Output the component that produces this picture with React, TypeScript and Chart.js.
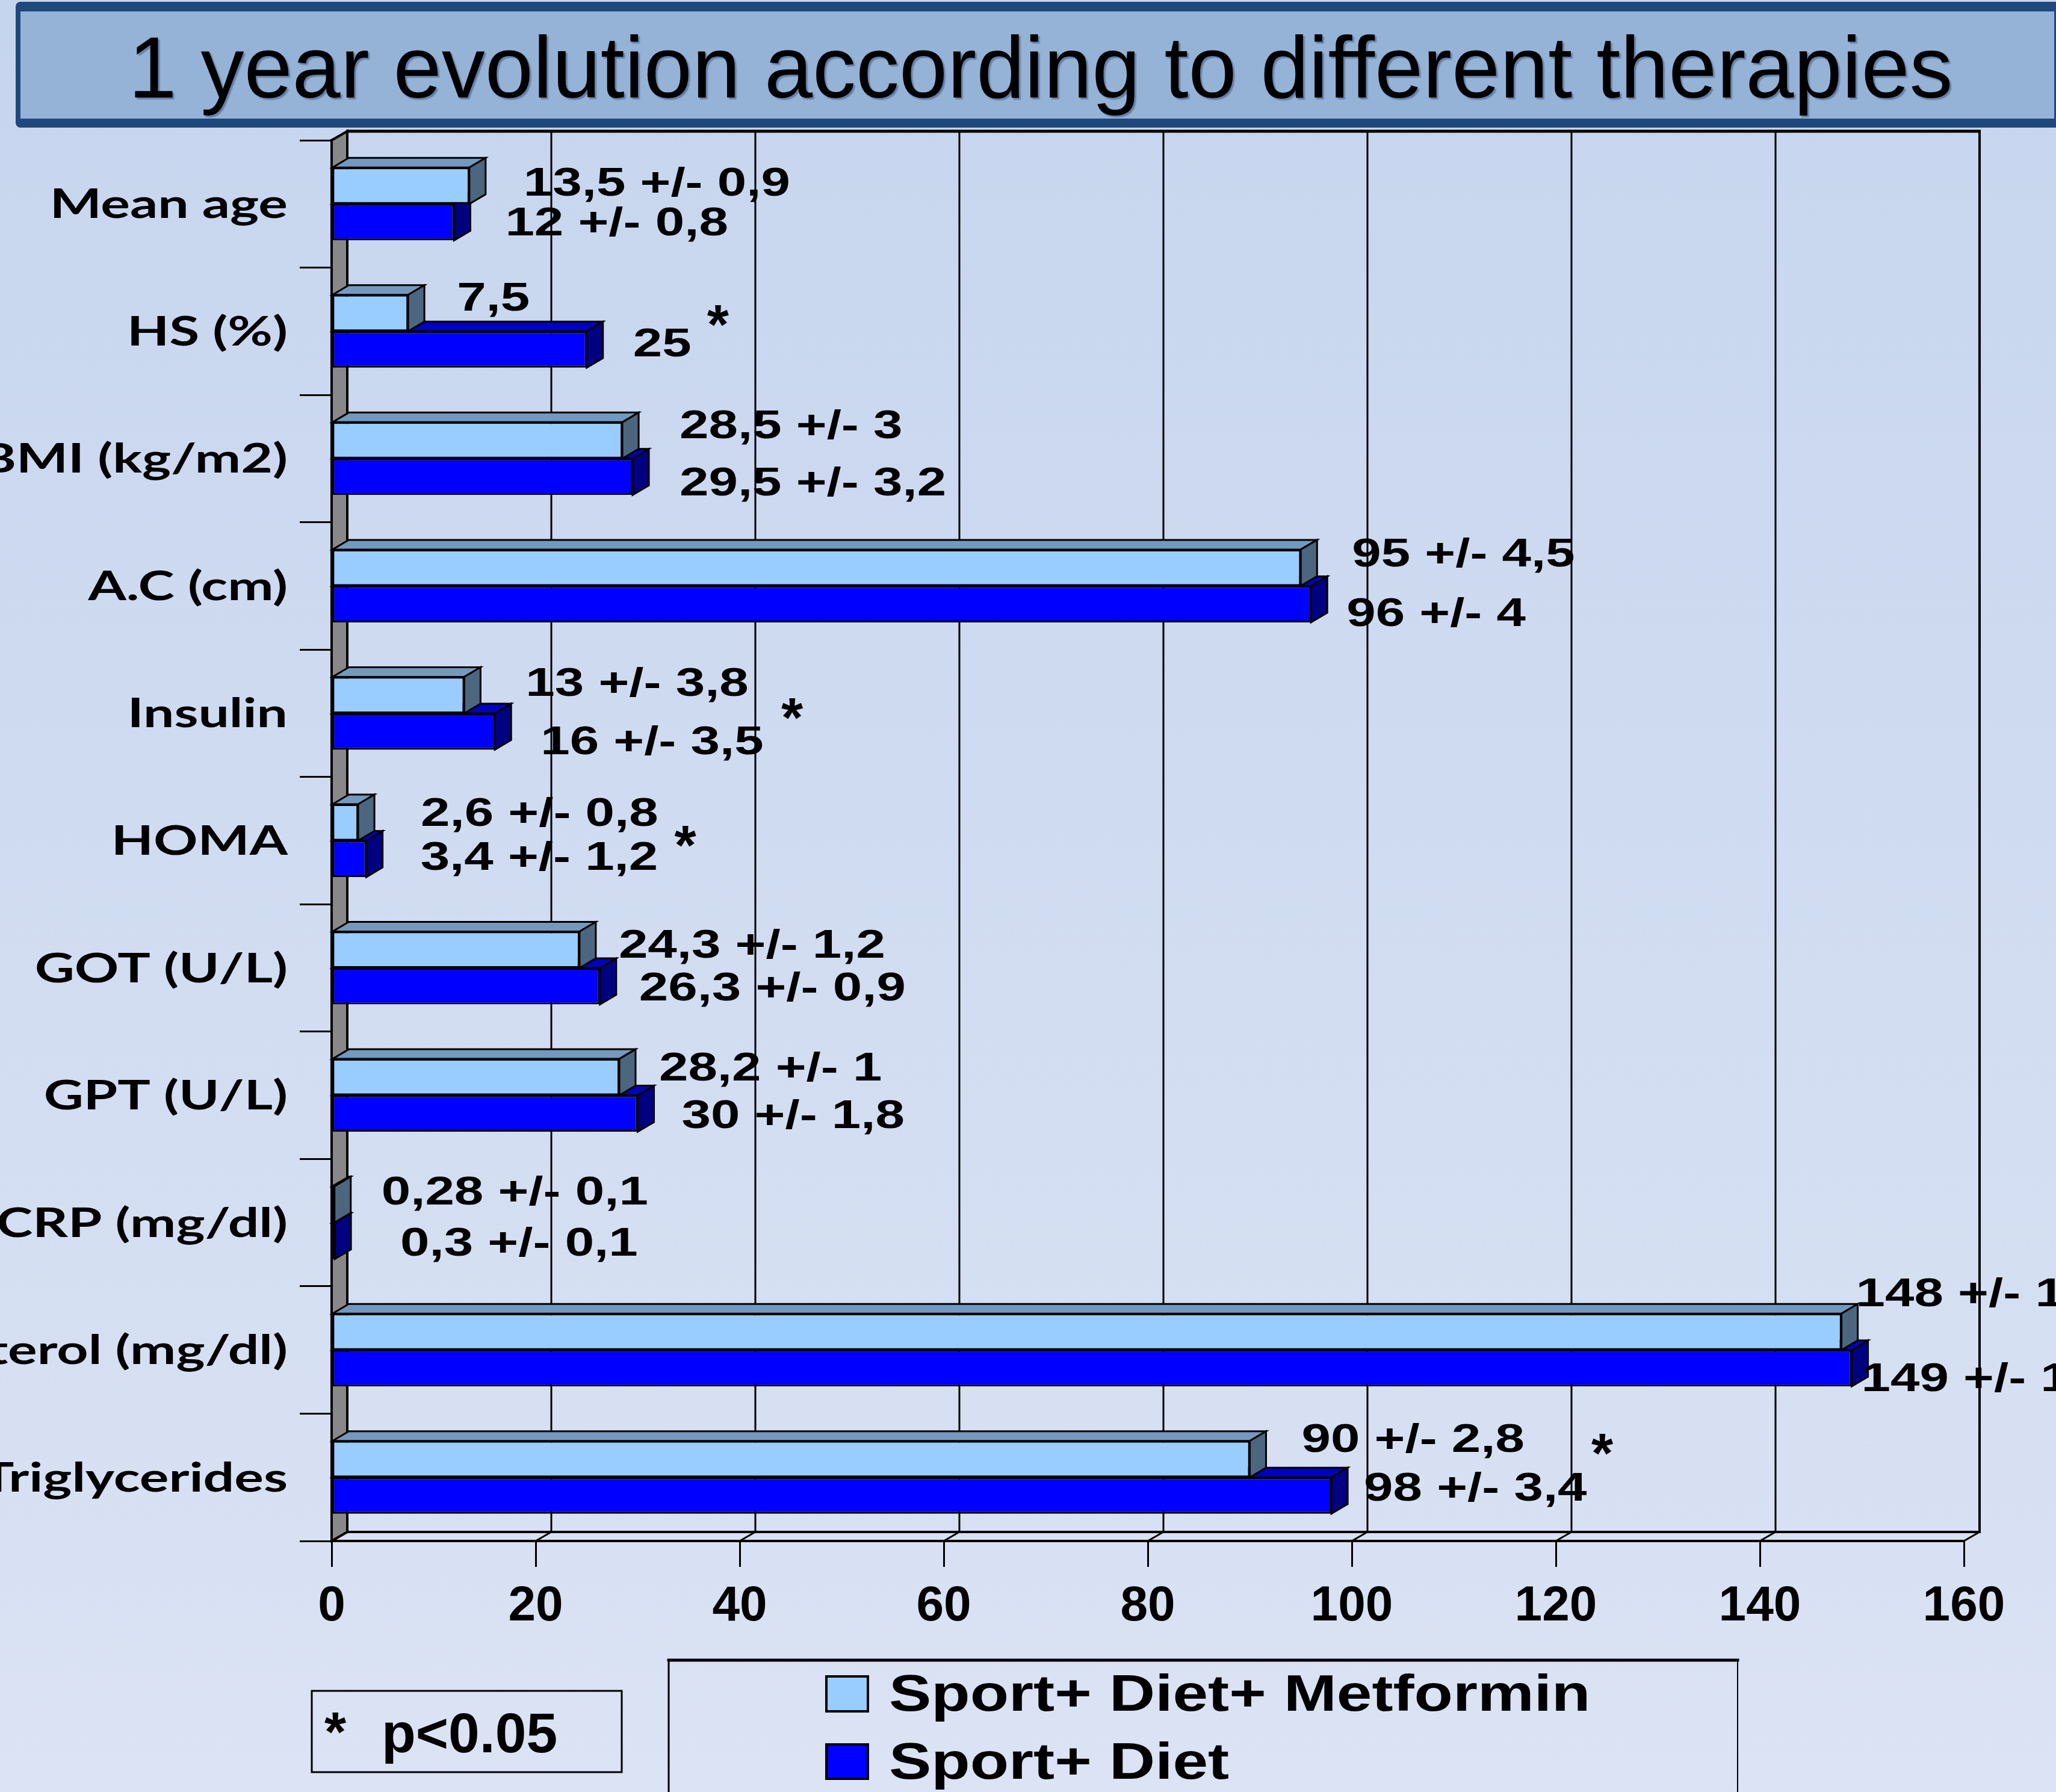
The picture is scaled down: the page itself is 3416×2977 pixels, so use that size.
import React, { useEffect, useRef } from "react";
import { Chart, registerables } from "chart.js";

Chart.register(...registerables);

// ---------------- data ----------------
const chartTitle = "1 year evolution according to different therapies";
const categories = [
  "Mean age",
  "HS (%)",
  "BMI (kg/m2)",
  "A.C (cm)",
  "Insulin",
  "HOMA",
  "GOT (U/L)",
  "GPT (U/L)",
  "CRP (mg/dl)",
  "Cholesterol (mg/dl)",
  "Triglycerides",
];
const seriesNames = ["Sport+ Diet+ Metformin", "Sport+ Diet"];
const metforminValues = [13.5, 7.5, 28.5, 95, 13, 2.6, 24.3, 28.2, 0.28, 148, 90];
const dietValues = [12, 25, 29.5, 96, 16, 3.4, 26.3, 30, 0.3, 149, 98];
const metforminLabels = [
  "13,5 +/- 0,9",
  "7,5",
  "28,5 +/- 3",
  "95 +/- 4,5",
  "13 +/- 3,8",
  "2,6 +/- 0,8",
  "24,3 +/- 1,2",
  "28,2 +/- 1",
  "0,28 +/- 0,1",
  "148 +/- 1",
  "90 +/- 2,8",
];
const dietLabels = [
  "12 +/- 0,8",
  "25",
  "29,5 +/- 3,2",
  "96 +/- 4",
  "16 +/- 3,5",
  "3,4 +/- 1,2",
  "26,3 +/- 0,9",
  "30 +/- 1,8",
  "0,3 +/- 0,1",
  "149 +/- 1",
  "98 +/- 3,4",
];
const significant = [false, true, false, false, true, true, false, false, false, false, true];
const xAxisMin = 0;
const xAxisMax = 160;
const xAxisStep = 20;
const footnoteMark = "*";
const footnoteText = "p<0.05";

// ---------------- layout & style ----------------
const W = 3416;
const H = 2977;
const PAD_TOP = 233;
const PAD_RIGHT = 153;
const Y_AXIS_WIDTH = 551;
const X_AXIS_HEIGHT = 417;
const WALL_DX = 26;
const WALL_DY = 15;
const BAR_DX = 27;
const BAR_DY = 16;

const FRONT_COLORS = ["#99CCFF", "#0000FF"];
const TOP_COLORS = ["#7399BF", "#0000BF"];
const SIDE_COLORS = ["#4C6680", "#000080"];
const WALL_GRAY = "#888888";

const VAL_FONT = 'bold 67px "Liberation Sans", Arial, sans-serif';
const VAL_CAP = 48;
const VAL_SX = 1.3;
const CAT_FONT = 'bold 67px Lato, "Open Sans", sans-serif';
const CAT_CAP = 47;
const CAT_SX = 1.36;
const CAT_RIGHT = 478;
const STAR_FONT = 'bold 93px "Liberation Sans", Arial, sans-serif';
const LEG_FONT = 'bold 85px "Liberation Sans", Arial, sans-serif';
const LEG_SX = 1.24;
const NOTE_FONT = 'bold 93px "Liberation Sans", Arial, sans-serif';

// label anchors: [dx from bar end, dy from bar centre] in px
const metforminLabelOffsets = [
  [90, -8], [81, -28], [95, -28], [85, -26], [102, -23], [104, -18],
  [65, -11], [66, -18], [78, -24], [24, -66], [86, -36],
];
const dietLabelOffsets = [
  [85, -2], [77, -13], [78, 7], [59, 12], [76, 14], [90, -6],
  [65, 0], [73, 0], [109, 1], [16, 14], [54, -15],
];
// star anchors relative to the second series bar end / centre: [dx, top dy]
const starOffsets = [
  null, [218, -77], null, null, [494, -58], [530, -58],
  null, null, null, null, [450, -105],
];

function drawStretched(
  ctx: CanvasRenderingContext2D,
  text: string,
  x: number,
  y: number,
  font: string,
  align: CanvasTextAlign,
  sx: number
) {
  ctx.save();
  ctx.font = font;
  ctx.textAlign = align;
  ctx.textBaseline = "alphabetic";
  ctx.fillStyle = "#000";
  ctx.translate(x, y);
  ctx.scale(sx, 1);
  ctx.fillText(text, 0, 0);
  ctx.restore();
}

function poly(ctx: CanvasRenderingContext2D, pts: number[][], fill: string | null, lw: number) {
  ctx.beginPath();
  ctx.moveTo(pts[0][0], pts[0][1]);
  for (let i = 1; i < pts.length; i++) ctx.lineTo(pts[i][0], pts[i][1]);
  ctx.closePath();
  if (fill) {
    ctx.fillStyle = fill;
    ctx.fill();
  }
  ctx.lineWidth = lw;
  ctx.strokeStyle = "#000";
  ctx.stroke();
}

function line(ctx: CanvasRenderingContext2D, x1: number, y1: number, x2: number, y2: number, lw: number) {
  ctx.beginPath();
  ctx.moveTo(x1, y1);
  ctx.lineTo(x2, y2);
  ctx.lineWidth = lw;
  ctx.strokeStyle = "#000";
  ctx.stroke();
}

const decoPlugin = {
  id: "deco3d",
  beforeDraw(chart: any) {
    const { ctx, width, height, chartArea: ca } = chart;
    const xs = chart.scales.x;
    ctx.save();
    // page background
    const g = ctx.createLinearGradient(0, 0, 0, height);
    g.addColorStop(0, "#C6D5EE");
    g.addColorStop(1, "#DBE3F4");
    ctx.fillStyle = g;
    ctx.fillRect(0, 0, width, height);

    // title box
    ctx.fillStyle = "#1F497D";
    ctx.beginPath();
    (ctx as any).roundRect(26, 3, width - 26 + 20, 209, 8);
    ctx.fill();
    ctx.fillStyle = "#95B3D7";
    ctx.fillRect(34, 19, width - 3 - 34, 178);
    ctx.save();
    ctx.font = '144px "Liberation Sans", Arial, sans-serif';
    ctx.textAlign = "center";
    ctx.textBaseline = "alphabetic";
    ctx.shadowColor = "rgba(40,60,100,0.45)";
    ctx.shadowOffsetX = 3;
    ctx.shadowOffsetY = 3;
    ctx.shadowBlur = 2;
    ctx.fillStyle = "#000";
    ctx.fillText(chartTitle, 1729, 162);
    ctx.restore();

    // back wall, floor and left wall
    const bt = ca.top - WALL_DY;
    const bb = ca.bottom - WALL_DY;
    const ticks = xs.ticks.map((t: any) => t.value);
    const bx = (v: number) => xs.getPixelForValue(v) + WALL_DX;
    ctx.lineCap = "butt";
    ticks.forEach((v: number, i: number) => {
      const edge = i === 0 || i === ticks.length - 1;
      line(ctx, bx(v), bt, bx(v), bb, edge ? 4 : 3);
      // floor connectors
      line(ctx, xs.getPixelForValue(v), ca.bottom, bx(v), bb, 3);
    });
    line(ctx, bx(xAxisMin) - 2, bt, bx(xAxisMax) + 2, bt, 5);
    line(ctx, bx(xAxisMin), bb, bx(xAxisMax) + 2, bb, 4);
    // gray side wall
    poly(
      ctx,
      [
        [ca.left, ca.top],
        [ca.left + WALL_DX, bt],
        [ca.left + WALL_DX, bb],
        [ca.left, ca.bottom],
      ],
      WALL_GRAY,
      4
    );
    ctx.restore();
  },
  afterDatasetDraw(chart: any, args: any) {
    const ctx = chart.ctx;
    const idx = args.index;
    ctx.save();
    ctx.lineJoin = "miter";
    args.meta.data.forEach((bar: any) => {
      const p = bar.getProps(["x", "y", "base", "height"], true);
      const x0 = p.base;
      const x1 = p.x;
      const yt = p.y - p.height / 2;
      const yb = p.y + p.height / 2;
      poly(
        ctx,
        [
          [x0, yt],
          [x0 + BAR_DX, yt - BAR_DY],
          [x1 + BAR_DX, yt - BAR_DY],
          [x1, yt],
        ],
        TOP_COLORS[idx],
        3
      );
      poly(
        ctx,
        [
          [x1, yt],
          [x1 + BAR_DX, yt - BAR_DY],
          [x1 + BAR_DX, yb - BAR_DY],
          [x1, yb],
        ],
        SIDE_COLORS[idx],
        3
      );
    });
    ctx.restore();
  },
  afterDraw(chart: any) {
    const ctx = chart.ctx;
    const ys = chart.scales.y;
    ctx.save();
    // category labels
    categories.forEach((c, i) => {
      const y = ys.getPixelForValue(i);
      drawStretched(ctx, c, CAT_RIGHT, y + CAT_CAP / 2, CAT_FONT, "right", CAT_SX);
    });
    // value labels
    const metaM = chart.getDatasetMeta(0);
    const metaD = chart.getDatasetMeta(1);
    metaM.data.forEach((bar: any, i: number) => {
      const p = bar.getProps(["x", "y"], true);
      const [dx, dy] = metforminLabelOffsets[i];
      drawStretched(ctx, metforminLabels[i], p.x + dx, p.y + dy + VAL_CAP / 2, VAL_FONT, "left", VAL_SX);
    });
    metaD.data.forEach((bar: any, i: number) => {
      const p = bar.getProps(["x", "y"], true);
      const [dx, dy] = dietLabelOffsets[i];
      drawStretched(ctx, dietLabels[i], p.x + dx, p.y + dy + VAL_CAP / 2, VAL_FONT, "left", VAL_SX);
      const s = starOffsets[i];
      if (significant[i] && s) {
        drawStretched(ctx, footnoteMark, p.x + s[0], p.y + s[1] + 67, STAR_FONT, "center", 1);
      }
    });

    // legend
    ctx.lineCap = "square";
    line(ctx, 1111, 2758, 2887, 2758, 5);
    line(ctx, 1111, 2758, 1111, H + 10, 3);
    line(ctx, 2887, 2758, 2887, H + 10, 2);
    const legRows = [
      { sq: 2783, sqH: 62, base: 2842 },
      { sq: 2896, sqH: 61, base: 2955 },
    ];
    chart.data.datasets.forEach((ds: any, i: number) => {
      const r = legRows[i];
      ctx.fillStyle = ds.backgroundColor;
      ctx.fillRect(1371, r.sq, 73, r.sqH);
      ctx.lineWidth = 4;
      ctx.strokeStyle = "#000";
      ctx.strokeRect(1373, r.sq + 2, 69, r.sqH - 4);
      drawStretched(ctx, ds.label, 1477, r.base, LEG_FONT, "left", LEG_SX);
    });

    // significance note box
    ctx.lineWidth = 3;
    ctx.strokeStyle = "#000";
    ctx.strokeRect(518, 2809, 515, 135);
    drawStretched(ctx, footnoteMark, 539, 2842 + 67, NOTE_FONT, "left", 1);
    drawStretched(ctx, footnoteText, 634, 2911, NOTE_FONT, "left", 1);
    ctx.restore();
  },
};

export default function App() {
  const ref = useRef<HTMLCanvasElement>(null);
  useEffect(() => {
    let chart: Chart | null = null;
    let cancelled = false;
    const fonts = [
      VAL_FONT,
      CAT_FONT,
      LEG_FONT,
      '144px "Liberation Sans"',
      'bold 82px "Liberation Sans"',
    ];
    Promise.all(fonts.map((f) => (document as any).fonts.load(f)))
      .catch(() => null)
      .then(() => {
        if (cancelled || !ref.current) return;
        chart = new Chart(ref.current, {
          type: "bar",
          data: {
            labels: categories,
            datasets: [
              {
                label: seriesNames[0],
                data: metforminValues,
                backgroundColor: FRONT_COLORS[0],
                borderColor: "#000",
                borderWidth: 3,
                borderSkipped: false,
                categoryPercentage: 0.572,
                barPercentage: 1,
              },
              {
                label: seriesNames[1],
                data: dietValues,
                backgroundColor: FRONT_COLORS[1],
                borderColor: "#000",
                borderWidth: 3,
                borderSkipped: false,
                categoryPercentage: 0.572,
                barPercentage: 1,
              },
            ],
          },
          options: {
            indexAxis: "y",
            animation: false,
            responsive: false,
            maintainAspectRatio: false,
            devicePixelRatio: 1,
            layout: { padding: { top: PAD_TOP, right: PAD_RIGHT, bottom: 0, left: 0 } },
            plugins: {
              legend: { display: false },
              tooltip: { enabled: false },
              title: { display: false },
            },
            scales: {
              x: {
                type: "linear",
                min: xAxisMin,
                max: xAxisMax,
                ticks: {
                  stepSize: xAxisStep,
                  autoSkip: false,
                  maxRotation: 0,
                  color: "#000",
                  padding: 17,
                  font: { family: '"Liberation Sans", Arial, sans-serif', size: 82, weight: "bold" },
                },
                grid: {
                  drawOnChartArea: false,
                  drawTicks: true,
                  tickLength: 43,
                  color: "#000",
                  lineWidth: 3,
                },
                border: { display: true, color: "#000", width: 4 },
                afterFit: (s: any) => {
                  s.height = X_AXIS_HEIGHT;
                },
              },
              y: {
                type: "category",
                offset: true,
                ticks: { display: false },
                grid: {
                  offset: true,
                  drawOnChartArea: false,
                  drawTicks: true,
                  tickLength: 53,
                  color: "#000",
                  lineWidth: 3,
                },
                border: { display: true, color: "#000", width: 4 },
                afterFit: (s: any) => {
                  s.width = Y_AXIS_WIDTH;
                },
              },
            },
          },
          plugins: [decoPlugin],
        } as any);
      });
    return () => {
      cancelled = true;
      if (chart) chart.destroy();
    };
  }, []);
  return (
    <div style={{ position: "fixed", left: 0, top: 0, width: W, height: H, overflow: "hidden" }}>
      <canvas ref={ref} width={W} height={H} style={{ display: "block", width: W, height: H }} />
    </div>
  );
}
